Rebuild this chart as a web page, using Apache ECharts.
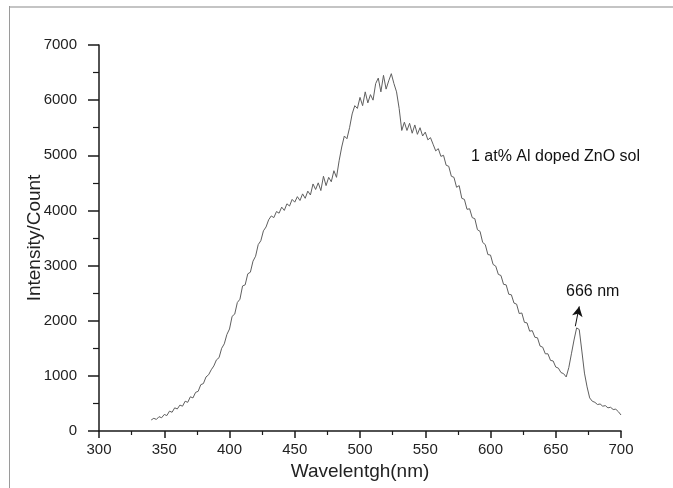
<!DOCTYPE html>
<html>
<head>
<meta charset="utf-8">
<script src="https://cdn.jsdelivr.net/npm/echarts@6/dist/echarts.min.js"></script>
<style>html,body{margin:0;padding:0;background:#fff}#c{width:673px;height:488px}</style>
</head>
<body>
<div id="c"></div>
<script>
const wavelengths = [340,342,344,346,348,350,352,354,356,358,360,362,364,366,368,370,372,374,376,378,380,382,384,386,388,390,392,394,396,398,400,402,404,406,408,410,412,414,416,418,420,422,424,426,428,430,432,434,436,438,440,442,444,446,448,450,452,454,456,458,460,462,464,466,468,470,472,474,476,478,480,482,484,486,488,490,492,494,496,498,500,502,504,506,508,510,512,514,516,518,520,522,524,526,528,530,532,534,536,538,540,542,544,546,548,550,552,554,556,558,560,562,564,566,568,570,572,574,576,578,580,582,584,586,588,590,592,594,596,598,600,602,604,606,608,610,612,614,616,618,620,622,624,626,628,630,632,634,636,638,640,642,644,646,648,650,652,654,656,658,660,662,664,666,668,670,672,674,676,678,680,682,684,686,688,690,692,694,696,698,700];
const intensity = [200,230,210,260,240,300,280,360,340,420,400,470,450,540,520,620,600,700,
720,840,860,980,1020,1110,1180,1290,1330,1500,1580,1750,1850,2080,2120,2330,2390,2630,2650,2850,2880,3080,3170,3380,3450,3630,3700,3830,
3900,3870,3980,3950,4060,4000,4120,4080,4200,4150,4250,4180,4300,4220,4350,4280,4480,4380,4500,4360,4620,4450,4600,4520,4720,4600,4900,5150,5350,5300,5500,5750,5900,5850,6050,5900,6150,5950,6100,6000,6300,6400,6150,6450,6200,6350,6480,6300,6150,5850,5450,5600,5450,5580,5400,5550,5380,5500,5350,5420,5280,5320,
5200,5080,5120,4980,5000,4820,4800,4620,4600,4420,4450,4220,4200,4020,4030,3870,3850,3650,3620,3420,3380,3200,3190,3020,2990,2840,2820,2660,2650,2480,2470,2320,2300,2130,2140,1970,1960,1810,1820,1700,1690,1540,1520,1400,1400,1280,1270,1160,1140,1060,1040,980,
1150,1400,1650,1870,1840,1450,1050,800,
600,540,520,480,490,450,460,420,430,390,395,350,290];
const xTicks = [300,350,400,450,500,550,600,650,700];
const yTicks = [0,1000,2000,3000,4000,5000,6000,7000];
const sampleLabel = '1 at% Al doped ZnO sol';
const peakLabel = '666 nm';
const peakArrow = [[665, 1900], [668, 2260]];

const chart = echarts.init(document.getElementById('c'), null, {renderer: 'canvas'});
const axisColor = '#1a1a1a';
const font = 'Arial, "Liberation Sans", sans-serif';
chart.setOption({
  animation: false,
  backgroundColor: '#fff',
  grid: {left: 99, top: 45, right: 52, bottom: 57},
  xAxis: {
    type: 'value', min: xTicks[0], max: xTicks[xTicks.length-1], interval: 50,
    name: 'Wavelentgh(nm)', nameLocation: 'middle', nameGap: 27,
    nameTextStyle: {fontSize: 19, color: '#222', fontFamily: font},
    axisLine: {onZero: false, lineStyle: {color: axisColor, width: 1.5}},
    axisTick: {inside: false, length: 7, lineStyle: {color: axisColor, width: 1.5}},
    minorTick: {show: true, splitNumber: 2, length: 4, lineStyle: {color: axisColor, width: 1.2}},
    axisLabel: {fontSize: 15, color: '#222', margin: 11, fontFamily: font, formatter: v => String(v)},
    splitLine: {show: false}
  },
  yAxis: {
    type: 'value', min: yTicks[0], max: yTicks[yTicks.length-1], interval: 1000,
    name: 'Intensity/Count', nameLocation: 'middle', nameGap: 55, nameMoveOverlap: false,
    nameTextStyle: {fontSize: 19, color: '#222', fontFamily: font},
    axisLine: {show: true, lineStyle: {color: axisColor, width: 1.5}},
    axisTick: {show: true, inside: false, length: 11, lineStyle: {color: axisColor, width: 1.5}},
    minorTick: {show: true, splitNumber: 2, length: 6, lineStyle: {color: axisColor, width: 1.2}},
    axisLabel: {fontSize: 15, color: '#222', margin: 22, fontFamily: font, formatter: v => String(v)},
    splitLine: {show: false}
  },
  series: [{
    type: 'line',
    data: wavelengths.map((w, i) => [w, intensity[i]]),
    showSymbol: false,
    lineStyle: {color: '#5f5f5f', width: 1},
    markLine: {
      silent: true,
      symbol: ['none', 'arrow'], symbolSize: [8, 10],
      label: {show: false},
      lineStyle: {color: '#111', width: 1, type: 'solid'},
      data: [[{coord: peakArrow[0]}, {coord: peakArrow[1]}]]
    }
  }],
  graphic: [
    {type: 'line', shape: {x1: 9, y1: 7, x2: 673, y2: 7}, style: {stroke: '#c4c4c4', lineWidth: 2}},
    {type: 'line', shape: {x1: 9.5, y1: 6, x2: 9.5, y2: 488}, style: {stroke: '#9a9a9a', lineWidth: 1}},
    {type: 'text', left: 471, top: 149, style: {text: sampleLabel, fill: '#111', font: '16px Arial, "Liberation Sans", sans-serif'}},
    {type: 'text', left: 566, top: 284, style: {text: peakLabel, fill: '#111', font: '16px Arial, "Liberation Sans", sans-serif'}}
  ]
});
</script>
</body>
</html>
